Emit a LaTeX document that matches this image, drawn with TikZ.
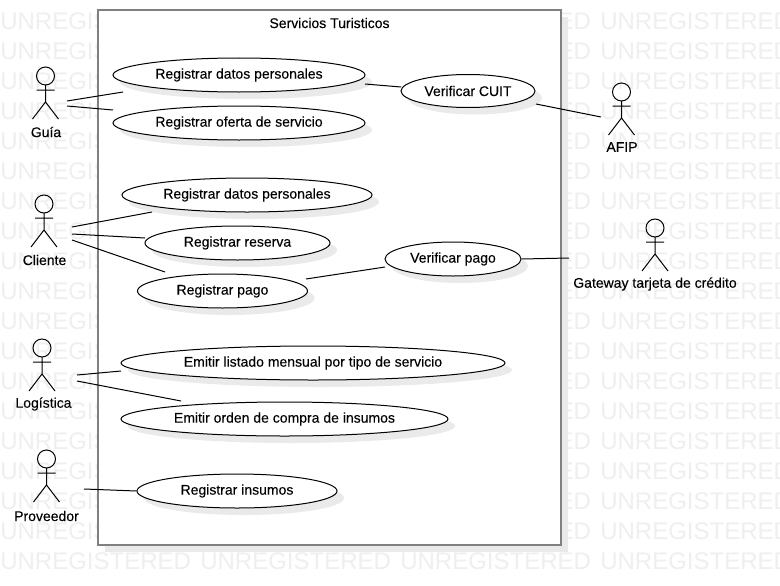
\documentclass[tikz,border=0pt]{standalone}
\usepackage{fontspec}
\setmainfont{Liberation Sans}
\newfontfamily\diagfont[FakeBold=0.15]{Liberation Sans}
\usetikzlibrary{shapes.geometric,shadows}
\definecolor{wmark}{HTML}{EFEFEF}
\definecolor{shade}{HTML}{EAEAEA}
\definecolor{boxline}{HTML}{808080}
\tikzset{
  x=0.75pt,y=-0.75pt,
  line/.style={draw=black,line width=0.75pt},
  usecase/.style={ellipse,draw=black,line width=0.75pt,fill=white,inner sep=0pt,
    font=\diagfont\fontsize{10.5}{12}\selectfont,
    drop shadow={shadow xshift=5.25pt,shadow yshift=-5.25pt,fill=shade,opacity=1}},
  system/.style={rectangle,draw=boxline,line width=1.5pt,fill=white,inner sep=0pt,
    drop shadow={shadow xshift=5.25pt,shadow yshift=-5.25pt,fill=shade,opacity=1}},
  label/.style={inner sep=0pt,font=\diagfont\fontsize{10.5}{12}\selectfont},
  watermark/.style={inner sep=0pt,anchor=west,text=wmark,font=\fontsize{18}{20}\selectfont},
  pics/actor/.style={code={
    \draw[black,line width=0.75pt] (0,0) circle[radius=9];
    \draw[black,line width=0.75pt] (0,9) -- (0,26) (-9,14) -- (9,14) (-13,43) -- (0,26) -- (13,43);
  }}
}
\newcommand{\uctext}[1]{\raisebox{-1.3pt}{#1}}
\begin{document}
\begin{tikzpicture}
\useasboundingbox (0,0) rectangle (780,585);
\fill[white] (0,0) rectangle (780,585);
% watermark
\foreach \r in {0,...,18}{
  \foreach \c in {0,...,3}{
    \node[watermark] at ({0+200*\c},{21.5+30*\r}) {UNREGISTERED};
  }
}
% system boundary
\node[system,minimum width=463*0.75pt,minimum height=535*0.75pt] (sys) at (329.5,277.5) {};
\node[label] (title) at (329.5,23) {Servicios Turisticos};
% use cases
\node[usecase,minimum width=252*0.75pt,minimum height=34*0.75pt] (ucA) at (239,75) {\uctext{Registrar datos personales}};
\node[usecase,minimum width=252*0.75pt,minimum height=34*0.75pt] (ucB) at (239,123) {\uctext{Registrar oferta de servicio}};
\node[usecase,minimum width=134*0.75pt,minimum height=33*0.75pt] (ucC) at (468,91) {\uctext{Verificar CUIT}};
\node[usecase,minimum width=250*0.75pt,minimum height=34*0.75pt] (ucD) at (247,195) {\uctext{Registrar datos personales}};
\node[usecase,minimum width=185*0.75pt,minimum height=34*0.75pt] (ucE) at (237.5,243) {\uctext{Registrar reserva}};
\node[usecase,minimum width=170*0.75pt,minimum height=34*0.75pt] (ucF) at (222.5,291) {\uctext{Registrar pago}};
\node[usecase,minimum width=136*0.75pt,minimum height=34*0.75pt] (ucG) at (453,259) {\uctext{Verificar pago}};
\node[usecase,minimum width=384*0.75pt,minimum height=34*0.75pt] (ucH) at (313,363) {\uctext{Emitir listado mensual por tipo de servicio}};
\node[usecase,minimum width=327*0.75pt,minimum height=34*0.75pt] (ucI) at (284.5,419) {\uctext{Emitir orden de compra de insumos}};
\node[usecase,minimum width=200*0.75pt,minimum height=34*0.75pt] (ucJ) at (237,491) {\uctext{Registrar insumos}};
% actors
\pic at (45.5,76) {actor};
\node[label] (guia) at (46,132) {Guía};
\pic at (44,204) {actor};
\node[label] (cliente) at (44.5,260) {Cliente};
\pic at (42,348) {actor};
\node[label] (logistica) at (43.5,404) {Logística};
\pic at (46.5,459) {actor};
\node[label] (proveedor) at (46.5,516) {Proveedor};
\pic at (621.5,92) {actor};
\node[label] (afip) at (622,147) {AFIP};
\pic at (655,228) {actor};
\node[label] (gateway) at (655,284) {Gateway tarjeta de crédito};
% connector ends
\coordinate (g1) at (67,101);   \coordinate (a1) at (123,92);
\coordinate (g2) at (67,106);   \coordinate (b1) at (113,110);
\coordinate (c1) at (72,227);   \coordinate (d1) at (152,212);
\coordinate (c2) at (72,234);   \coordinate (e1) at (145,238);
\coordinate (c3) at (72,240);   \coordinate (f1) at (165,272);
\coordinate (l1) at (77,375);   \coordinate (h1) at (121,371);
\coordinate (l2) at (77,381);   \coordinate (i1) at (181,401);
\coordinate (p1) at (84,489);
\coordinate (a2) at (365,84);   \coordinate (v1) at (401,87);
\coordinate (v2) at (536,104);  \coordinate (af) at (601,117);
\coordinate (f2) at (306,279);  \coordinate (v3) at (385,267);
\coordinate (gw) at (569,258);
% connectors
\draw[line] (g1) -- (a1);
\draw[line] (g2) -- (b1);
\draw[line] (c1) -- (d1);
\draw[line] (c2) -- (e1);
\draw[line] (c3) -- (f1);
\draw[line] (l1) -- (h1);
\draw[line] (l2) -- (i1);
\draw[line] (p1) -- (ucJ.west);
\draw[line] (a2) -- (v1);
\draw[line] (v2) -- (af);
\draw[line] (f2) -- (v3);
\draw[line] (ucG.east) -- (gw);
\end{tikzpicture}
\end{document}
